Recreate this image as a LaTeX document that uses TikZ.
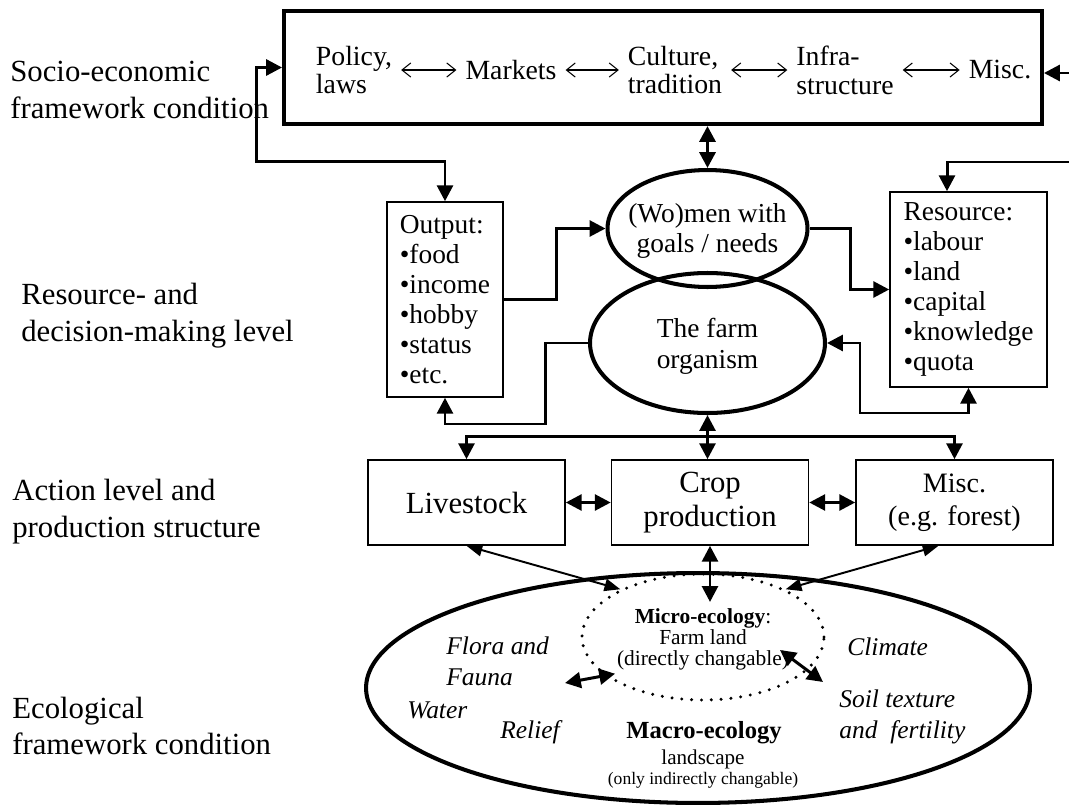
\documentclass[tikz,border=0pt]{standalone}
\usepackage{fontspec}
\setmainfont{Liberation Serif}
\usetikzlibrary{arrows.meta,shapes.geometric}

\begin{document}
\begin{tikzpicture}
[x=0.02cm,y=-0.02cm,
 framedecorate/.style={draw,line width=2.3pt,inner sep=0pt},
 boxdecorate/.style={draw,line width=0.9pt,inner sep=0pt,align=left,font=\fontsize{15.6}{17}\selectfont},
 actdecorate/.style={draw,line width=0.9pt,inner sep=0pt,minimum width=3.94cm,minimum height=1.7cm,align=center},
 ovaldecorate/.style={shape=ellipse,draw,line width=2.3pt,inner sep=0pt},
 dotdecorate/.style={shape=ellipse,draw,line width=1.9pt,line cap=round,dash pattern=on 0pt off 5.6pt,inner sep=0pt},
 leveldecorate/.style={anchor=west,align=left,inner sep=0pt,font=\fontsize{17.5}{21}\selectfont},
 itemdecorate/.style={align=left,inner xsep=5pt,inner ysep=0pt,font=\fontsize{15.8}{16.5}\selectfont},
 ovaltextdecorate/.style={align=center,font=\fontsize{15.6}{17.5}\selectfont},
 naturedecorate/.style={anchor=west,align=left,inner sep=0pt,font=\fontsize{14.5}{17.5}\selectfont\itshape},
 linedecorate/.style={-{Triangle[length=9pt,width=9pt]},line width=1.7pt},
 bothdecorate/.style={{Triangle[length=9pt,width=9pt]}-{Triangle[length=9pt,width=9pt]},line width=1.7pt},
 thindecorate/.style={{Straight Barb[length=5pt,width=8pt]}-{Straight Barb[length=5pt,width=8pt]},line width=0.6pt},
 lightdecorate/.style={{Triangle[length=9pt,width=7pt]}-{Triangle[length=9pt,width=7pt]},line width=1.1pt}]
\useasboundingbox (0,0) rectangle (1069,805);

%% level names
\foreach \nodename/\x/\y/\txt in {lvsocio/10/90/{Socio-economic\\framework condition},
    lvresource/21/316/{Resource- and\\decision-making level},
    lvaction/12/512/{Action level and\\production structure},
    lveco/12/726/{Ecological\\framework condition}} {
  \node[leveldecorate] (\nodename) at (\x,\y) {\txt};
}

%% socio-economic frame
\node[framedecorate,minimum width=15.16cm,minimum height=2.26cm] (socio) at (663,67.5) {};
\foreach \nodename/\x/\txt in {policy/354/{Policy,\\laws}, markets/511/Markets,
    culture/675/{Culture,\\tradition}, infra/845/{Infra-\\structure}, miscsoc/1000/Misc.} {
  \node[itemdecorate] (\nodename) at (\x,70) {\txt};
}
\path
\foreach \startnode/\endnode in {policy/markets, markets/culture, culture/infra, infra/miscsoc} {
  (\startnode) edge[thindecorate] (\endnode)
};
\coordinate (socioin) at (1069,73);
\coordinate (resourcein) at (1069,162);

%% resource and decision level
\node[ovaldecorate,minimum width=4cm,minimum height=2.34cm] (women) at (707.5,228.5) {};
\node[ovaldecorate,minimum width=4.7cm,minimum height=2.8cm] (farm) at (707.5,343) {};
\node[ovaltextdecorate] (womentext) at (707.5,231) {(Wo)men with\\goals / needs};
\node[ovaltextdecorate] (farmtext) at (707.5,346) {The farm\\organism};
\node[boxdecorate,minimum width=2.32cm,minimum height=3.9cm] (output) at (445,299.5)
  {Output:\\•food\\•income\\•hobby\\•status\\•etc.};
\node[boxdecorate,minimum width=3.14cm,minimum height=3.9cm] (resource) at (968.5,289.5)
  {Resource:\\•labour\\•land\\•capital\\•knowledge\\•quota};

%% action level
\node[actdecorate,font=\fontsize{17.5}{19.5}\selectfont] (livestock) at (466.5,502.5) {Livestock};
\node[actdecorate,font=\fontsize{17.5}{19.5}\selectfont] (crop) at (710,502.5) {Crop\\production};
\node[actdecorate,font=\fontsize{16}{18.5}\selectfont] (misc) at (954.5,502.5) {Misc.\\(e.g. forest)};

%% ecological frame
\node[ovaldecorate,minimum width=13.28cm,minimum height=4.6cm] (macro) at (698,688) {};
\node[dotdecorate,minimum width=4.84cm,minimum height=2.52cm] (micro) at (703,637) {};
\node[align=center,font=\fontsize{12.2}{12}\selectfont] (microtext) at (703,639)
  {\textbf{Micro-ecology}:\\Farm land\\(directly changable)};
\node[font=\fontsize{14}{14}\selectfont\bfseries] (macrotitle) at (704,733) {Macro-ecology};
\node[font=\fontsize{12}{12}\selectfont] (landscape) at (703,759) {landscape};
\node[font=\fontsize{10}{10}\selectfont] (indirect) at (703,780) {(only indirectly changable)};
\foreach \nodename/\x/\y/\txt in {flora/446/661/{Flora and\\Fauna}, water/407/710/Water,
    relief/500/732/Relief, climate/847/647/Climate, soil/839/717/{Soil texture\\and\ \ fertility}} {
  \node[naturedecorate] (\nodename) at (\x,\y) {\txt};
}
\coordinate (floraend) at (565,683);
\coordinate (microin) at (780,650);
\coordinate (soilend) at (823,682);

%% connectors
\draw[bothdecorate] (socio.west) -| ++(-26,94) -| (output.north);
\draw[linedecorate] (socioin) -- (socioin -| socio.east);
\draw[linedecorate] (resourcein) -| ([xshift=-0.43cm]resource.north);
\draw[bothdecorate,line width=2pt] (socio.south -| women.north) -- (women.north);
\draw[linedecorate] (output.east) -- ++(53,0) |- (women.west);
\draw[linedecorate] (women.east) -- ++(41,0) |- (resource.west);
\draw[linedecorate] (farm.west) -- ++(-43,0) -- ++(0,81) -| (output.south);
\draw[bothdecorate] (farm.east) -- ++(33,0) -- ++(0,70) -| (resource.south);
\draw[bothdecorate] (farm.south) -- (farm.south |- crop.north);
\draw[bothdecorate] (livestock.north) -- ++(0,-23) -| (misc.north);
\path
\foreach \startnode/\endnode in {livestock/crop, crop/misc} {
  (\startnode) edge[bothdecorate] (\endnode)
};
\draw[bothdecorate] (crop.south) -- (crop.south |- microtext.north);
\draw[lightdecorate] (livestock.south) -- (micro.150);
\draw[lightdecorate] ([xshift=-0.32cm]misc.south) -- (micro.30);
\draw[bothdecorate] (floraend) -- ([xshift=0.26cm]micro.200);
\draw[bothdecorate] (microin) -- (soilend);
\end{tikzpicture}
\end{document}
